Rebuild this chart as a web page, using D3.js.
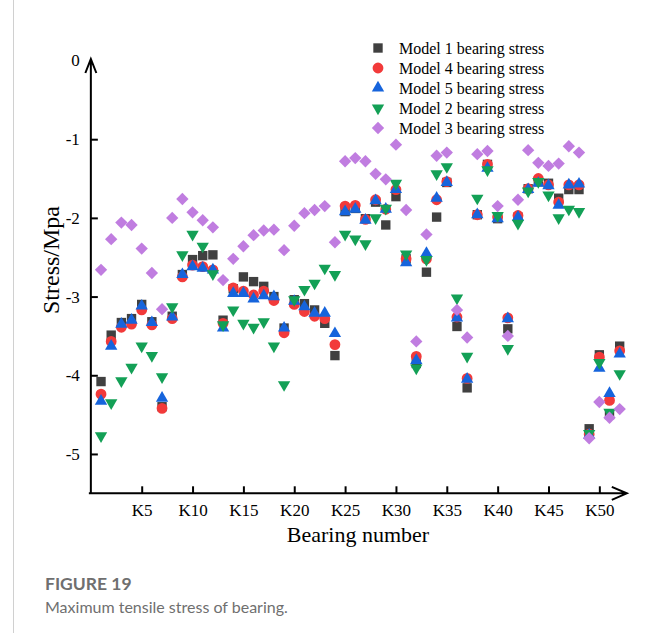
<!DOCTYPE html>
<html>
<head>
<meta charset="utf-8">
<script src="https://cdn.jsdelivr.net/npm/d3@7"></script>
<style>
  html, body { margin: 0; padding: 0; background: #ffffff; }
  svg { display: block; }
  .axis text { font-family: "Liberation Serif", "Times New Roman", serif; font-size: 17px; fill: #000; }
  .axis line { stroke: #000; stroke-width: 2; }
</style>
</head>
<body>
<svg id="chart" width="654" height="635"></svg>
<script>
// Bearing numbers K1..K52
const bearings = d3.range(1, 53);

// Maximum tensile stress (MPa) per bearing, one array per model
const model1 = [-4.08, -3.49, -3.33, -3.28, -3.10, -3.32, -4.40, -3.25, -2.72, -2.53,
  -2.48, -2.47, -3.30, -2.90, -2.75, -2.81, -2.87, -3.00, -3.40, -3.04,
  -3.09, -3.17, -3.34, -3.75, -1.92, -1.88, -2.01, -1.80, -2.09, -1.73,
  -2.52, -3.85, -2.69, -1.99, -1.55, -3.38, -4.16, -1.96, -1.32, -2.01,
  -3.41, -1.99, -1.63, -1.54, -1.56, -1.75, -1.64, -1.64, -4.68, -3.74,
  -4.50, -3.63];
const model4 = [-4.24, -3.57, -3.39, -3.35, -3.17, -3.36, -4.42, -3.28, -2.75, -2.60,
  -2.62, -2.66, -3.34, -2.89, -2.93, -2.98, -2.93, -3.05, -3.46, -3.10,
  -3.19, -3.25, -3.28, -3.61, -1.85, -1.84, -2.02, -1.77, -1.89, -1.64,
  -2.52, -3.76, -2.52, -1.77, -1.54, -3.26, -4.04, -1.96, -1.32, -1.99,
  -3.27, -1.97, -1.63, -1.50, -1.58, -1.80, -1.58, -1.58, -4.75, -3.77,
  -4.32, -3.69];
const model5 = [-4.33, -3.63, -3.35, -3.30, -3.12, -3.33, -4.29, -3.26, -2.72, -2.62,
  -2.64, -2.66, -3.40, -2.96, -2.96, -3.03, -2.99, -3.00, -3.40, -3.06,
  -3.13, -3.21, -3.21, -3.47, -1.92, -1.89, -2.03, -1.78, -1.89, -1.64,
  -2.57, -3.81, -2.45, -1.75, -1.55, -3.27, -4.05, -1.96, -1.37, -2.01,
  -3.28, -1.99, -1.64, -1.56, -1.59, -1.84, -1.58, -1.57, -4.76, -3.91,
  -4.23, -3.73];
const model2 = [-4.77, -4.35, -4.07, -3.90, -3.63, -3.75, -4.02, -3.13, -2.47, -2.21,
  -2.36, -2.71, -3.36, -3.17, -3.34, -3.39, -3.32, -3.63, -4.12, -3.04,
  -2.91, -2.83, -2.64, -2.72, -2.21, -2.27, -2.33, -2.00, -1.88, -1.56,
  -2.46, -3.91, -2.53, -1.44, -1.35, -3.02, -3.76, -1.75, -1.39, -1.97,
  -3.66, -2.07, -1.66, -1.54, -1.71, -2.00, -1.89, -1.92, -4.74, -3.84,
  -4.47, -3.98];
const model3 = [-2.66, -2.27, -2.06, -2.09, -2.39, -2.70, -3.16, -2.00, -1.76, -1.93,
  -2.03, -2.12, -2.79, -2.52, -2.36, -2.22, -2.16, -2.15, -2.41, -2.10,
  -1.94, -1.90, -1.85, -2.31, -1.28, -1.24, -1.28, -1.44, -1.51, -1.07,
  -1.90, -3.57, -2.21, -1.21, -1.17, -3.17, -3.52, -1.19, -1.15, -1.85,
  -3.50, -1.77, -1.14, -1.30, -1.34, -1.31, -1.09, -1.17, -4.80, -4.34,
  -4.54, -4.43];

// Tick labels
const xTicks = [5, 10, 15, 20, 25, 30, 35, 40, 45, 50];
const yTicks = [0, -1, -2, -3, -4, -5];

// Series in drawing order (later ones sit on top)
const series = [
  { name: "Model 1 bearing stress", values: model1, color: "#404040", shape: "square" },
  { name: "Model 4 bearing stress", values: model4, color: "#f23a3a", shape: "circle" },
  { name: "Model 5 bearing stress", values: model5, color: "#1664dc", shape: "up" },
  { name: "Model 2 bearing stress", values: model2, color: "#13a056", shape: "down" },
  { name: "Model 3 bearing stress", values: model3, color: "#c07de0", shape: "diamond" }
];

const svg = d3.select("#chart");

const x = d3.scaleLinear().domain([0, 52.7]).range([90.85, 626.8]);
const y = d3.scaleLinear().domain([-5.5, 0]).range([493.3, 60.5]);

const symbols = {
  square:  { type: d3.symbolSquare,   size: 88,  rot: 0 },
  circle:  { type: d3.symbolCircle,   size: 92,  rot: 0 },
  up:      { type: d3.symbolTriangle, size: 66,  rot: 0 },
  down:    { type: d3.symbolTriangle, size: 66,  rot: 180 },
  diamond: { type: d3.symbolSquare,   size: 76,  rot: 45 }
};
function symbolPath(shape) {
  const s = symbols[shape];
  return d3.symbol().type(s.type).size(s.size)();
}

// Axes
const xAxis = d3.axisBottom(x)
  .tickValues(xTicks)
  .tickFormat(d => "K" + d)
  .tickSizeInner(-7)
  .tickSizeOuter(0)
  .tickPadding(11);
const gx = svg.append("g").attr("class", "axis").attr("transform", `translate(0,${y(-5.5)})`).call(xAxis);
gx.select(".domain").remove();

const yAxis = d3.axisLeft(y)
  .tickValues(yTicks)
  .tickFormat(d => d === 0 ? "0" : "-" + Math.abs(d))
  .tickSizeInner(-7)
  .tickSizeOuter(0)
  .tickPadding(11);
const gy = svg.append("g").attr("class", "axis").attr("transform", `translate(${x(0)},0)`).call(yAxis);
gy.select(".domain").remove();
gy.selectAll(".tick").filter(d => d === 0).select("line").remove();

// Axis lines with open arrowheads
const x0 = x(0), yb = y(-5.5), yTop = y(0) - 1.5, xEnd = x(52.7);
svg.append("path")
  .attr("d", `M${x0},${yb}V${yTop}M${x0 - 5.5},${yTop + 14}L${x0},${yTop}L${x0 + 5.5},${yTop + 14}`)
  .attr("fill", "none").attr("stroke", "#000").attr("stroke-width", 2);
svg.append("path")
  .attr("d", `M${x0 - 2},${yb}H${xEnd}M${xEnd - 15},${yb - 6.5}L${xEnd},${yb}L${xEnd - 15},${yb + 6.5}`)
  .attr("fill", "none").attr("stroke", "#000").attr("stroke-width", 2);

// Data points
series.forEach(s => {
  svg.append("g")
    .selectAll("path")
    .data(bearings.map((b, i) => ({ b, v: s.values[i] })))
    .join("path")
    .attr("d", symbolPath(s.shape))
    .attr("transform", d => `translate(${x(d.b)},${y(d.v)}) rotate(${symbols[s.shape].rot})`)
    .attr("fill", s.color);
});

// Legend
const legend = svg.append("g").attr("transform", "translate(378,48)");
series.forEach((s, i) => {
  const row = legend.append("g").attr("transform", `translate(0,${i * 20})`);
  row.append("path")
    .attr("d", symbolPath(s.shape))
    .attr("transform", `rotate(${symbols[s.shape].rot})`)
    .attr("fill", s.color);
  row.append("text")
    .attr("x", 21).attr("y", 5.5)
    .attr("font-family", "Liberation Serif, Times New Roman, serif")
    .attr("font-size", 16)
    .text(s.name);
});

// Axis titles
svg.append("text")
  .attr("x", 358).attr("y", 542)
  .attr("text-anchor", "middle")
  .attr("font-family", "Liberation Serif, Times New Roman, serif")
  .attr("font-size", 22)
  .text("Bearing number");
svg.append("text")
  .attr("transform", "translate(59,260) rotate(-90)")
  .attr("text-anchor", "middle")
  .attr("font-family", "Liberation Serif, Times New Roman, serif")
  .attr("font-size", 24)
  .text("Stress/Mpa");

// Caption block
svg.append("line")
  .attr("x1", 13.5).attr("x2", 13.5).attr("y1", 0).attr("y2", 633)
  .attr("stroke", "#d0d0d0").attr("stroke-width", 1);
svg.append("text")
  .attr("x", 45).attr("y", 590)
  .attr("font-family", "Lato, Open Sans, sans-serif")
  .attr("font-weight", 700)
  .attr("font-size", 17.5)
  .attr("fill", "#6f6f6f")
  .text("FIGURE 19");
svg.append("text")
  .attr("x", 45).attr("y", 613)
  .attr("font-family", "Lato, Open Sans, sans-serif")
  .attr("font-size", 16)
  .attr("fill", "#6f6f6f")
  .text("Maximum tensile stress of bearing.");
</script>
</body>
</html>
